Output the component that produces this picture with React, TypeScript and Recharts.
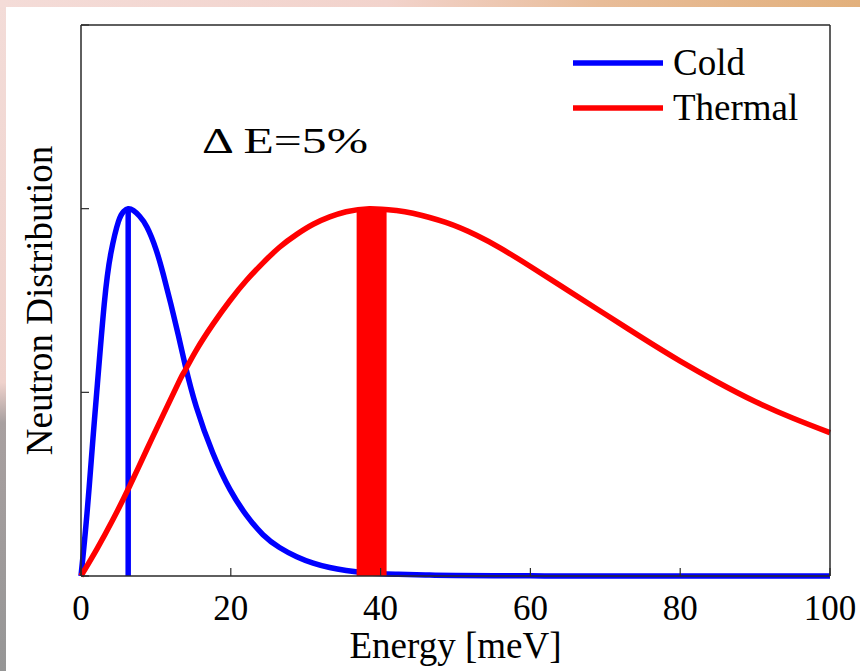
import React from "react";
import {
  LineChart,
  Line,
  XAxis,
  YAxis,
  ReferenceLine,
  ReferenceArea,
  Legend,
} from "recharts";

// values (energy in meV, distribution in axis units)
const COLD_E = [0, 0.8, 1.6, 2.1, 3.1, 4.0, 5.0, 5.7, 6.3, 7.0, 7.8, 8.8, 10, 11, 12, 13, 13.9, 15.4, 17.6, 19.9, 22.1, 24.3, 26.5, 28.8, 31, 33.2, 35.4, 38, 42, 46, 50, 60, 70, 100];
const COLD_V = [0, 0.34, 0.75, 1.0, 1.48, 1.76, 1.93, 1.985, 2.0, 1.99, 1.96, 1.9, 1.78, 1.64, 1.48, 1.31, 1.15, 0.92, 0.67, 0.47, 0.33, 0.225, 0.155, 0.105, 0.07, 0.046, 0.03, 0.018, 0.01, 0.006, 0.003, 0.001, 0, 0];

const THERMAL_E = [0, 2.1, 4.3, 6.5, 8.8, 11, 13.2, 13.9, 15.4, 17.6, 19.9, 22.1, 24.3, 26.5, 28.8, 31, 33.2, 35.4, 38.5, 42.1, 44.3, 48.7, 52.8, 56, 60, 65, 70, 75, 80, 85, 90, 95, 100];
const THERMAL_V = [0, 0.145, 0.31, 0.49, 0.69, 0.88, 1.068, 1.12, 1.23, 1.37, 1.5, 1.61, 1.705, 1.79, 1.86, 1.915, 1.955, 1.983, 2.0, 1.99, 1.975, 1.925, 1.855, 1.785, 1.685, 1.555, 1.425, 1.295, 1.17, 1.055, 0.95, 0.86, 0.78];

const COLD_PICK_E = 6.3;
const THERMAL_BAND = [36.8, 40.8];
const PICK_TOP = 2;

const ENERGY_TICKS = [0, 20, 40, 60, 80, 100];
const DIST_TICKS = [0, 1, 2, 3];

const cold = COLD_E.map((e, i) => ({ e, v: COLD_V[i] }));
const thermal = THERMAL_E.map((e, i) => ({ e, v: THERMAL_V[i] }));

const FONT = "'Liberation Serif', 'DejaVu Serif', serif";
const FRAME = "#2a2a2a";

const BottomTick = (p: any) => (
  <g>
    <line x1={p.x} x2={p.x} y1={576} y2={568} stroke={FRAME} strokeWidth={1.2} />
    <text x={p.x} y={576 + 44} textAnchor="middle" fontSize={35} fontFamily={FONT} fill="#000">
      {p.payload.value}
    </text>
  </g>
);
const TopTick = (p: any) => (
  <line x1={p.x} x2={p.x} y1={25} y2={33} stroke={FRAME} strokeWidth={1.2} />
);
const LeftTick = (p: any) => (
  <line x1={81} x2={89} y1={p.y} y2={p.y} stroke={FRAME} strokeWidth={1.2} />
);
const RightTick = (p: any) => (
  <line x1={830} x2={822} y1={p.y} y2={p.y} stroke={FRAME} strokeWidth={1.2} />
);

export default function App() {
  return (
    <div style={{ position: "absolute", left: 0, top: 0, width: 860, height: 671, overflow: "hidden", fontFamily: FONT }}>
      {/* backdrop bits around the white panel */}
      <div
        style={{
          position: "absolute",
          inset: 0,
          background:
            "linear-gradient(to bottom, #f3dcd8 0%, #efd2cc 57%, #a8a0a0 63%, #969696 100%)",
        }}
      />
      <div
        style={{
          position: "absolute",
          left: 0,
          top: 0,
          width: 860,
          height: 7,
          background:
            "linear-gradient(to right, #f4dcd8 0%, #f2d3cc 45%, #e8bc98 70%, #e2b07c 100%)",
        }}
      />
      <div style={{ position: "absolute", left: 6, top: 7, right: 0, bottom: 0, background: "#fff" }} />

      <div style={{ position: "absolute", left: 0, top: 0 }}>
        <LineChart width={860} height={671} margin={{ top: 24, right: 29, bottom: 94, left: 80 }}>
          <XAxis
            dataKey="e"
            type="number"
            domain={[0, 100]}
            ticks={ENERGY_TICKS}
            interval={0}
            height={1}
            tickSize={0}
            tickMargin={0}
            tickLine={false}
            tick={BottomTick}
            axisLine={{ stroke: FRAME, strokeWidth: 1.5 }}
            label={{
              value: "Energy [meV]",
              content: () => (
                <text x={455.5} y={658} textAnchor="middle" fontSize={37} fontFamily={FONT} fill="#000">
                  Energy [meV]
                </text>
              ),
            }}
          />
          <XAxis
            xAxisId="top"
            orientation="top"
            dataKey="e"
            type="number"
            domain={[0, 100]}
            ticks={ENERGY_TICKS}
            interval={0}
            height={1}
            tickSize={0}
            tickMargin={0}
            tickLine={false}
            tick={TopTick}
            axisLine={{ stroke: FRAME, strokeWidth: 1.5 }}
          />
          <YAxis
            type="number"
            domain={[0, 3]}
            ticks={DIST_TICKS}
            interval={0}
            width={1}
            tickSize={0}
            tickMargin={0}
            tickLine={false}
            tick={LeftTick}
            axisLine={{ stroke: FRAME, strokeWidth: 1.5 }}
            label={{
              value: "Neutron Distribution",
              content: () => (
                <text
                  x={52}
                  y={300.5}
                  transform="rotate(-90 52 300.5)"
                  textAnchor="middle"
                  fontSize={37}
                  fontFamily={FONT}
                  fill="#000"
                >
                  Neutron Distribution
                </text>
              ),
            }}
          />
          <YAxis
            yAxisId="right"
            orientation="right"
            type="number"
            domain={[0, 3]}
            ticks={DIST_TICKS}
            interval={0}
            width={1}
            tickSize={0}
            tickMargin={0}
            tickLine={false}
            tick={RightTick}
            axisLine={{ stroke: FRAME, strokeWidth: 1.5 }}
          />

          <Line
            data={cold}
            dataKey="v"
            name="Cold"
            type="natural"
            stroke="#0000ff"
            strokeWidth={5.5}
            dot={false}
            activeDot={false}
            isAnimationActive={false}
          />
          <ReferenceLine
            segment={[
              { x: COLD_PICK_E, y: 0 },
              { x: COLD_PICK_E, y: PICK_TOP },
            ]}
            stroke="#0000ff"
            strokeWidth={5.5}
          />
          <Line
            data={thermal}
            dataKey="v"
            name="Thermal"
            type="natural"
            stroke="#ff0000"
            strokeWidth={5.5}
            dot={false}
            activeDot={false}
            isAnimationActive={false}
          />
          <ReferenceArea
            x1={THERMAL_BAND[0]}
            x2={THERMAL_BAND[1]}
            y1={0}
            y2={PICK_TOP}
            fill="#ff0000"
            fillOpacity={1}
            stroke="none"
            zIndex={450}
          />

          <Legend
            verticalAlign="middle"
            layout="horizontal"
            wrapperStyle={{ position: "absolute", left: 573, top: 40, width: 260, margin: 0 }}
            content={(lp: any) => (
              <div>
                {(lp.payload || []).map((it: any) => (
                  <div key={it.value} style={{ display: "flex", alignItems: "center", height: 45 }}>
                    <svg width={90} height={8} style={{ display: "block" }}>
                      <line x1={0} x2={90} y1={4} y2={4} stroke={it.color} strokeWidth={5.5} />
                    </svg>
                    <span style={{ marginLeft: 10, fontSize: 37, lineHeight: "45px", fontFamily: FONT, color: "#000" }}>
                      {it.value}
                    </span>
                  </div>
                ))}
              </div>
            )}
          />
        </LineChart>
      </div>

      <svg width={860} height={671} style={{ position: "absolute", left: 0, top: 0, pointerEvents: "none" }}>
        <text x={202} y={153} fontSize={35} fontFamily={FONT} textLength={166} lengthAdjust="spacingAndGlyphs" fill="#000">
          Δ E=5%
        </text>
      </svg>
    </div>
  );
}
